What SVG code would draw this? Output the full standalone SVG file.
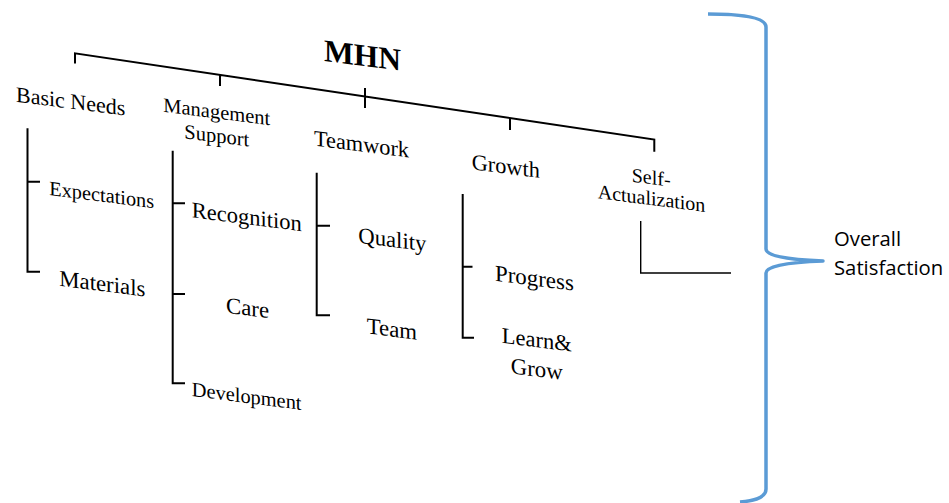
<svg xmlns="http://www.w3.org/2000/svg" width="949" height="503" viewBox="0 0 949 503">
<style>
.t{font-family:"Liberation Serif","Times New Roman",serif;fill:#000;}
.c{fill:none;stroke:#000;stroke-width:2;}
.thin{fill:none;stroke:#000;stroke-width:1.4;}
.brace{fill:none;stroke:#5B9BD5;stroke-width:3.5;stroke-linejoin:round;}
.os{font-family:"Open Sans","Noto Sans",sans-serif;font-size:20.3px;fill:#000;}
</style>
<rect width="949" height="503" fill="#fff"/>
<g id="connectors">
<path class="c" d="M75,63.5 V53.3 L654.3,139.5 V151.7 M220,75 V86 M365,88 V108 M510,118 V130"/>
<path class="c" d="M27.5,128.3 V271.7 H40 M27.5,181.7 H40"/>
<path class="c" d="M172.7,150.7 V383.3 H185 M172.7,203.3 H185 M172.7,294 H185"/>
<path class="c" d="M316.7,172.7 V315.3 H330 M316.7,225.7 H330"/>
<path class="c" d="M462.7,194 V337.7 H474 M462.7,266.7 H472.5"/>
<path class="thin" d="M640.7,221 V273 H731"/>
<path class="brace" d="M708,14 Q766,14 766,27 L766,249 Q766,259 823,261 Q766,263 766,273 L766,489 Q766,500 740,502"/>
</g>
<g id="root">
<text class="t" transform="translate(324,61) skewY(7.2)" font-size="31.5" font-weight="bold">MHN</text>
</g>
<g id="basic-needs">
<text class="t" transform="translate(16,101.7) skewY(7.2)" font-size="22">Basic Needs</text>
<text class="t" transform="translate(49.3,195) skewY(7.2)" font-size="20.3">Expectations</text>
<text class="t" transform="translate(59.3,285.7) skewY(7.2)" font-size="22.8">Materials</text>
</g>
<g id="management-support">
<text class="t" transform="translate(163.3,111.7) skewY(7.2)" font-size="20.5">Management</text>
<text class="t" transform="translate(184.3,138.3) skewY(7.2)" font-size="20.5">Support</text>
<text class="t" transform="translate(191.7,217.3) skewY(7.2)" font-size="22.5">Recognition</text>
<text class="t" transform="translate(226,312.7) skewY(7.2)" font-size="22.8">Care</text>
<text class="t" transform="translate(191.7,396) skewY(7.2)" font-size="20.4">Development</text>
</g>
<g id="teamwork">
<text class="t" transform="translate(314,145.5) skewY(7.2)" font-size="22.3">Teamwork</text>
<text class="t" transform="translate(358.3,242.7) skewY(7.2)" font-size="22.7">Quality</text>
<text class="t" transform="translate(366.7,333.3) skewY(7.2)" font-size="22.8">Team</text>
</g>
<g id="growth">
<text class="t" transform="translate(471.7,169.3) skewY(7.2)" font-size="22.3">Growth</text>
<text class="t" transform="translate(495,280.7) skewY(7.2)" font-size="22.9">Progress</text>
<text class="t" transform="translate(501.7,342.7) skewY(7.2)" font-size="22.5">Learn&amp;</text>
<text class="t" transform="translate(510.7,373.3) skewY(7.2)" font-size="22.8">Grow</text>
</g>
<g id="self-actualization">
<text class="t" transform="translate(631.7,181.7) skewY(7.2)" font-size="20">Self-</text>
<text class="t" transform="translate(597.7,198.3) skewY(7.2)" font-size="20">Actualization</text>
</g>
<g id="overall-satisfaction">
<text class="os" x="834" y="246">Overall</text>
<text class="os" x="834" y="275">Satisfaction</text>
</g>
</svg>
